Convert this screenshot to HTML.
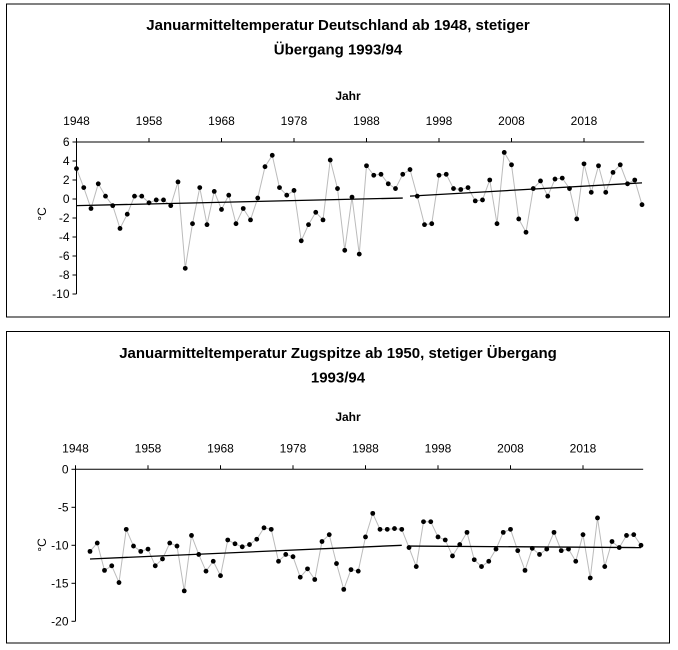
<!DOCTYPE html>
<html><head><meta charset="utf-8"><style>
body{margin:0;background:#fff;width:678px;height:650px;overflow:hidden}
svg{position:absolute;left:0;top:0;font-family:"Liberation Sans",Arial,sans-serif}
</style></head><body>
<svg id="s" width="678" height="650"></svg>
<script>
const yearsTop = Array.from({length:79},(_,i)=>1948+i);
const valsTop = [3.2,1.2,-1.0,1.6,0.3,-0.7,-3.1,-1.6,0.3,0.3,-0.4,-0.1,-0.1,-0.7,1.8,-7.3,-2.6,1.2,-2.7,0.8,-1.1,0.4,-2.6,-1.0,-2.2,0.1,3.4,4.6,1.2,0.4,0.9,-4.4,-2.7,-1.4,-2.2,4.1,1.1,-5.4,0.2,-5.8,3.5,2.5,2.6,1.6,1.1,2.6,3.1,0.3,-2.7,-2.6,2.5,2.6,1.1,1.0,1.2,-0.2,-0.1,2.0,-2.6,4.9,3.6,-2.1,-3.5,1.1,1.9,0.3,2.1,2.2,1.1,-2.1,3.7,0.7,3.5,0.7,2.8,3.6,1.6,2.0,-0.6];
const trendTop = [[1948,-0.7],[1993,0.1],[1994,0.3],[2026,1.7]];
const yearsBot = Array.from({length:77},(_,i)=>1950+i);
const valsBot = [-10.8,-9.7,-13.3,-12.7,-14.9,-7.9,-10.1,-10.8,-10.5,-12.7,-11.8,-9.7,-10.1,-16.0,-8.7,-11.2,-13.4,-12.1,-14.0,-9.3,-9.8,-10.2,-9.9,-9.2,-7.7,-7.9,-12.1,-11.2,-11.5,-14.2,-13.1,-14.5,-9.5,-8.6,-12.4,-15.8,-13.2,-13.4,-8.9,-5.8,-7.9,-7.9,-7.8,-7.9,-10.3,-12.8,-6.9,-6.9,-8.9,-9.3,-11.4,-9.9,-8.3,-11.9,-12.8,-12.1,-10.5,-8.3,-7.9,-10.7,-13.3,-10.4,-11.2,-10.5,-8.3,-10.7,-10.5,-12.1,-8.6,-14.3,-6.4,-12.8,-9.5,-10.3,-8.7,-8.6,-10.0];
const trendBot = [[1950,-11.8],[1993,-10.0],[1994,-10.1],[2026,-10.3]];
const xTicks = [1948,1958,1968,1978,1988,1998,2008,2018];
const ticksTop = [6,4,2,0,-2,-4,-6,-8,-10];
const ticksBot = [0,-5,-10,-15,-20];

const NS="http://www.w3.org/2000/svg", svg=document.getElementById('s');
function el(t,a,p){const e=document.createElementNS(NS,t);for(const k in a)e.setAttribute(k,a[k]);(p||svg).appendChild(e);return e;}
function txt(s,a,p){const e=el('text',a,p);e.textContent=s;return e;}

function panel(o){
  const g=el('g',{});
  
  
  const fr=el('rect',{x:6.5,y:o.fy,width:663,height:o.fh,fill:'none',stroke:'#000','stroke-width':1},g);
  
  
  o.title.forEach((t,i)=>{const e=txt(t,{x:338,y:o.ty+i*24.5,'text-anchor':'middle','font-size':15,'font-weight':'bold'},g);
    
    });
  const X=y=>o.x0+(y-1948)*7.25, Y=v=>o.y0+(o.ymax-v)*o.ppu;
  const jl=txt('Jahr',{x:348,y:o.jy,'text-anchor':'middle','font-size':12,'font-weight':'bold'},g);
  
  
  el('line',{x1:o.x0,y1:o.y0,x2:X(2026.3),y2:o.y0,stroke:'#000'},g);
  xTicks.forEach(t=>{el('line',{x1:X(t),y1:o.y0,x2:X(t),y2:o.y0-4,stroke:'#000'},g);
    const e=txt(t,{x:X(t),y:o.y0-17,'text-anchor':'middle','font-size':12},g);
    
    });
  el('line',{x1:o.x0,y1:o.y0,x2:o.x0,y2:Y(o.ticks[o.ticks.length-1]),stroke:'#000'},g);
  o.ticks.forEach(t=>{el('line',{x1:o.x0-4,y1:Y(t),x2:o.x0,y2:Y(t),stroke:'#000'},g);
    const e=txt(t,{x:o.x0-7,y:Y(t)+4,'text-anchor':'end','font-size':12},g);
    
    });
  const yl=txt('°C',{x:0,y:0,'font-size':12,'text-anchor':'middle',transform:`translate(46,${o.yl}) rotate(-90)`},g);
  
  
  const pts=o.years.map((y,i)=>X(y)+','+Y(o.vals[i])).join(' ');
  const pl=el('polyline',{points:pts,fill:'none',stroke:'#bbb','stroke-width':1},g);
  
  
  for(let k=0;k<o.trend.length;k+=2){
    const a=o.trend[k],b=o.trend[k+1];
    const l=el('line',{x1:X(a[0]),y1:Y(a[1]),x2:X(b[0]),y2:Y(b[1]),stroke:'#000','stroke-width':1.3},g);
    
    
  }
  o.years.forEach((y,i)=>{const c=el('circle',{cx:X(y),cy:Y(o.vals[i]),r:2.4,fill:'#000'},g);
    
    });
}
panel({name:'germany-panel',fy:4,fh:313,ty:30,jy:100,x0:76.5,y0:142,ymax:6,ppu:9.5,ticks:ticksTop,yl:214,
  title:['Januarmitteltemperatur Deutschland ab 1948, stetiger','Übergang 1993/94'],years:yearsTop,vals:valsTop,trend:trendTop});
panel({name:'zugspitze-panel',fy:331.5,fh:311.5,ty:358,jy:421,x0:75.5,y0:469.3,ymax:0,ppu:7.6,ticks:ticksBot,yl:545,
  title:['Januarmitteltemperatur Zugspitze ab 1950, stetiger Übergang','1993/94'],years:yearsBot,vals:valsBot,trend:trendBot});
</script>
</body></html>
